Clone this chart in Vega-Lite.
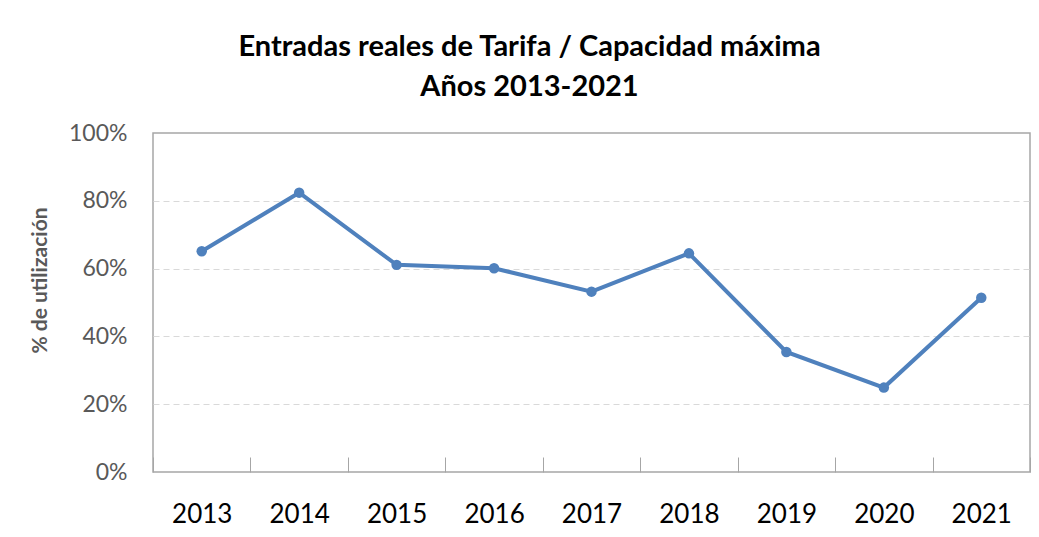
{
  "$schema": "https://vega.github.io/schema/vega-lite/v6.json",
  "width": 877,
  "height": 339,
  "autosize": "none",
  "padding": {"left": 153, "top": 133, "right": 9, "bottom": 65},
  "background": "white",
  "title": {
    "text": ["Entradas reales de Tarifa / Capacidad máxima", "Años 2013-2021"],
    "font": "Lato",
    "fontSize": 29,
    "fontWeight": "bold",
    "color": "#000000",
    "lineHeight": 40,
    "anchor": "middle",
    "dx": -62,
    "offset": 20
  },
  "data": {
    "values": [
      {"year": "2013", "value": 0.651},
      {"year": "2014", "value": 0.824},
      {"year": "2015", "value": 0.611},
      {"year": "2016", "value": 0.601},
      {"year": "2017", "value": 0.532},
      {"year": "2018", "value": 0.645},
      {"year": "2019", "value": 0.354},
      {"year": "2020", "value": 0.249},
      {"year": "2021", "value": 0.514}
    ]
  },
  "mark": {
    "type": "line",
    "color": "#4f81bd",
    "strokeWidth": 4,
    "point": {"filled": true, "size": 110, "color": "#4f81bd", "opacity": 1}
  },
  "encoding": {
    "x": {
      "field": "year",
      "type": "ordinal",
      "scale": {"type": "band", "paddingInner": 0, "paddingOuter": 0},
      "axis": {
        "title": null,
        "labelAngle": 0,
        "labelFont": "Lato",
        "labelFontSize": 26,
        "labelColor": "#000000",
        "labelPadding": 44,
        "tickBand": "extent",
        "tickSize": -15,
        "tickColor": "#a6a6a6",
        "tickWidth": 1,
        "domain": false,
        "grid": false
      }
    },
    "y": {
      "field": "value",
      "type": "quantitative",
      "scale": {"domain": [0, 1], "nice": false},
      "axis": {
        "title": "% de utilización",
        "titleFont": "Lato",
        "titleFontSize": 21,
        "titleFontWeight": "bold",
        "titleColor": "#595959",
        "titlePadding": 18,
        "titleY": 147,
        "values": [0, 0.2, 0.4, 0.6, 0.8, 1],
        "format": "%",
        "labelFont": "Lato",
        "labelFontSize": 23,
        "labelColor": "#595959",
        "labelPadding": 26,
        "ticks": false,
        "domain": false,
        "grid": true,
        "gridColor": "#d9d9d9",
        "gridDash": [6, 4],
        "gridWidth": 1.2,
        "gridOpacity": {"condition": {"test": "datum.value == 0 || datum.value == 1", "value": 0}, "value": 1}
      }
    }
  },
  "config": {
    "view": {"stroke": "#a6a6a6", "strokeWidth": 1.5}
  }
}
